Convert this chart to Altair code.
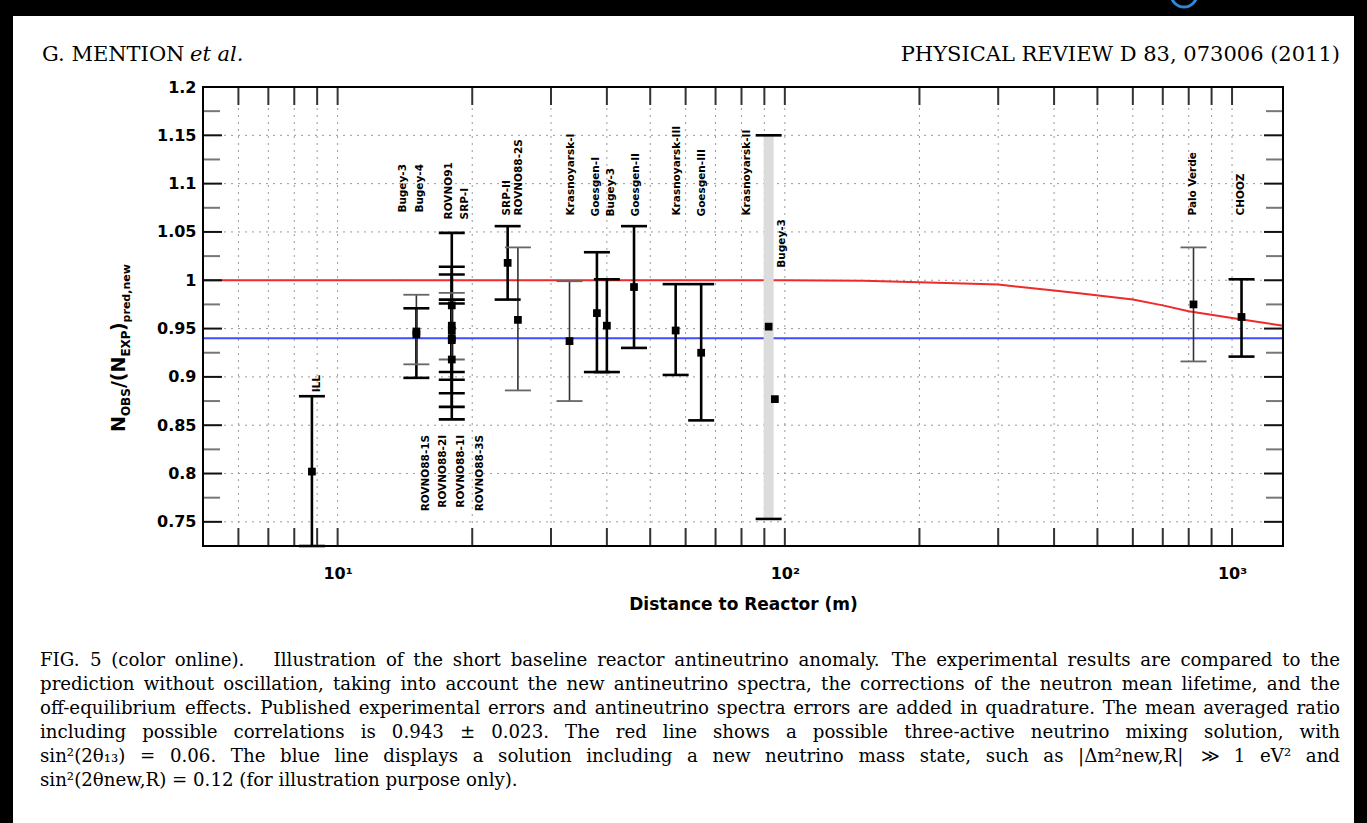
import altair as alt
import pandas as pd

# ---------------------------------------------------------------------------
# Reactor experiments: baseline (m), observed / predicted ratio, error bar ends
# ---------------------------------------------------------------------------
experiment = ["ILL", "Bugey-4", "Bugey-3 (15 m)", "ROVNO91", "SRP-I", "ROVNO88-1I",
              "ROVNO88-2I", "ROVNO88-1S", "ROVNO88-3S", "SRP-II", "ROVNO88-2S",
              "Krasnoyarsk-I", "Goesgen-I", "Bugey-3 (40 m)", "Goesgen-II",
              "Krasnoyarsk-III", "Goesgen-III", "Krasnoyarsk-II", "Bugey-3 (95 m)",
              "Palo Verde", "CHOOZ"]
distance_m = [8.76, 15.0, 15.0, 18.0, 18.0, 18.0, 18.0, 18.0, 18.0, 24.0, 25.3,
              33.0, 38.0, 40.0, 46.0, 57.0, 65.0, 92.0, 95.0, 820.0, 1050.0]
ratio = [0.802, 0.944, 0.947, 0.940, 0.953, 0.918, 0.948, 0.974, 0.938, 1.018, 0.959,
         0.937, 0.966, 0.953, 0.993, 0.948, 0.925, 0.952, 0.877, 0.975, 0.962]
err_low = [0.725, 0.899, 0.913, 0.905, 0.918, 0.856, 0.883, 0.897, 0.869, 0.980, 0.886,
           0.875, 0.905, 0.905, 0.930, 0.902, 0.855, 0.753, 0.877, 0.916, 0.921]
err_high = [0.880, 0.971, 0.985, 0.976, 0.987, 0.980, 1.014, 1.049, 1.006, 1.056, 1.034,
            0.999, 1.029, 1.001, 1.056, 0.996, 0.996, 1.150, 0.877, 1.034, 1.001]
bar_style = ["dark", "dark", "light", "dark", "light", "dark", "dark", "dark", "dark",
             "dark", "light", "light", "dark", "dark", "dark", "dark", "dark", "band",
             "none", "light", "dark"]

# Experiment names written vertically next to the points
label_text = ["ILL", "Bugey-3", "Bugey-4", "ROVNO91", "SRP-I", "SRP-II", "ROVNO88-2S",
              "Krasnoyarsk-I", "Goesgen-I", "Bugey-3", "Goesgen-II", "Krasnoyarsk-III",
              "Goesgen-III", "Krasnoyarsk-II", "Bugey-3", "Palo Verde", "CHOOZ",
              "ROVNO88-1S", "ROVNO88-2I", "ROVNO88-1I", "ROVNO88-3S"]
label_dist = [9.0, 14.0, 15.3, 17.7, 19.3, 23.9, 25.4, 33.2, 37.8, 40.8, 46.4, 57.3,
              65.4, 82.2, 98.4, 818.0, 1045.0, 15.8, 17.2, 18.9, 20.8]
label_at = [0.884, 1.070, 1.070, 1.063, 1.063, 1.067, 1.067, 1.067, 1.066, 1.066, 1.066,
            1.067, 1.066, 1.067, 1.013, 1.067, 1.067, 0.840, 0.840, 0.840, 0.840]
label_side = ["above"] * 17 + ["below"] * 4

# Three-active-neutrino mixing prediction (red) and sterile-neutrino level (blue)
red_dist = [5, 100, 150, 200, 240, 300, 400, 455, 600, 700, 800, 1000, 1300]
red_ratio = [1.0, 1.0, 0.9995, 0.998, 0.997, 0.9955, 0.9895, 0.9865, 0.980, 0.974,
             0.968, 0.961, 0.953]
blue_level = [0.94]

# Axis tick positions
x_ticks = [6, 7, 8, 9, 10, 20, 30, 40, 50, 60, 70, 80, 90, 100,
           200, 300, 400, 500, 600, 700, 800, 900, 1000]
x_decades = [10, 100, 1000]
y_major = [0.75, 0.8, 0.85, 0.9, 0.95, 1.0, 1.05, 1.1, 1.15, 1.2]
y_minor = [0.725, 0.775, 0.825, 0.875, 0.925, 0.975, 1.025, 1.075, 1.125, 1.175]

caption_lines = [
    "FIG. 5 (color online).   Illustration of the short baseline reactor antineutrino anomaly. The experimental results are compared to the",
    "prediction without oscillation, taking into account the new antineutrino spectra, the corrections of the neutron mean lifetime, and the",
    "off-equilibrium effects. Published experimental errors and antineutrino spectra errors are added in quadrature. The mean averaged ratio",
    "including possible correlations is 0.943 \u00b1 0.023. The red line shows a possible three-active neutrino mixing solution, with",
    "sin\u00b2(2\u03b8\u2081\u2083) = 0.06. The blue line displays a solution including a new neutrino mass state, such as |\u0394m\u00b2new,R| \u226b 1 eV\u00b2 and",
    "sin\u00b2(2\u03b8new,R) = 0.12 (for illustration purpose only).",
]

# ---------------------------------------------------------------------------
W, H = 1080, 459
SANS = "DejaVu Sans"
SERIF = "DejaVu Serif"

exp = pd.DataFrame({"experiment": experiment, "dist": distance_m, "ratio": ratio,
                    "low": err_low, "high": err_high, "style": bar_style})
labels = pd.DataFrame({"text": label_text, "dist": label_dist, "at": label_at,
                       "side": label_side})
red = pd.DataFrame({"dist": red_dist, "ratio": red_ratio})
blue = pd.DataFrame({"ratio": blue_level})
xt = pd.DataFrame({"dist": x_ticks})
ymaj = pd.DataFrame({"v": y_major[:-1]})
ymin = pd.DataFrame({"v": y_minor})
ygrid = pd.DataFrame({"v": y_major})
one = alt.Data(values=[{"k": 0}])

x_scale = alt.Scale(type="log", domain=[5, 1300], nice=False)
y_scale = alt.Scale(domain=[0.725, 1.2], nice=False, zero=False)

x_axis = alt.Axis(values=x_decades, ticks=False, domain=False, grid=False,
                  labelExpr="datum.value == 10 ? '10\u00b9' : datum.value == 100 ? '10\u00b2' : '10\u00b3'",
                  labelFont=SANS, labelFontSize=16, labelFontWeight="bold",
                  labelColor="black", labelPadding=19, labelFlush=False,
                  labelOverlap=False, title="Distance to Reactor (m)",
                  titleFont=SANS, titleFontSize=17, titleFontWeight="bold",
                  titleColor="black", titlePadding=15)
y_axis = alt.Axis(values=y_major, format="~g", ticks=False, domain=False, grid=False,
                  labelFont=SANS, labelFontSize=16, labelFontWeight="bold",
                  labelColor="black", labelPadding=7, labelFlush=False,
                  labelOverlap=False, title=None)


def X(field):
    return alt.X(f"{field}:Q", scale=x_scale, axis=x_axis)


def Y(field):
    return alt.Y(f"{field}:Q", scale=y_scale, axis=y_axis)


def free_text(txt, x, y, size, font, weight="normal", style="normal", angle=0,
              align="left", baseline="middle"):
    return alt.Chart(one).mark_text(
        text=txt, font=font, fontSize=size, fontWeight=weight, fontStyle=style,
        angle=angle, align=align, baseline=baseline, color="black"
    ).encode(x=alt.value(x), y=alt.value(y))


# approximate advance widths (em) of DejaVu Serif, used to justify the caption
SERIF_EM = {" ": .318, ".": .318, ",": .318, "(": .390, ")": .390, "-": .338,
            "\u00b1": .838, "=": .838, "|": .337, "\u00b2": .401, "\u226b": 1.0,
            "\u0394": .770, "\u03b8": .602, "\u2081": .401, "\u2083": .401, ":": .337,
            "a": .596, "b": .640, "c": .560, "d": .640, "e": .592, "f": .370, "g": .640,
            "h": .644, "i": .320, "j": .310, "k": .606, "l": .320, "m": .948, "n": .644,
            "o": .602, "p": .640, "q": .640, "r": .478, "s": .513, "t": .402, "u": .644,
            "v": .565, "w": .856, "x": .564, "y": .565, "z": .527,
            "A": .722, "B": .735, "C": .765, "D": .802, "E": .730, "F": .694, "G": .799,
            "H": .872, "I": .395, "L": .664, "M": 1.024, "N": .875, "O": .820, "P": .673,
            "R": .753, "S": .685, "T": .667, "V": .722, "W": 1.028}


def serif_width(s, size):
    return sum(SERIF_EM.get(c, .636) for c in s) * size


def justified(line, left, right, y, size):
    words = line.split(" ")
    widths = [serif_width(w, size) for w in words]
    gap = (right - left - sum(widths)) / (len(words) - 1)
    out, pos = [], left
    for i, (w, wd) in enumerate(zip(words, widths)):
        if w:
            if i == len(words) - 1:
                out.append(free_text(w, right, y, size, SERIF, align="right"))
            else:
                out.append(free_text(w, pos, y, size, SERIF))
        pos += wd + gap
    return out


# dotted grid
grid_v = alt.Chart(xt).mark_rule(color="#9a9a9a", strokeWidth=1, strokeDash=[2, 5]).encode(x=X("dist"))
grid_h = alt.Chart(ygrid).mark_rule(color="#9a9a9a", strokeWidth=1, strokeDash=[2, 5]).encode(y=Y("v"))

# model curves
red_line = alt.Chart(red).mark_line(color="#ee2a2a", strokeWidth=2).encode(x=X("dist"), y=Y("ratio"))
blue_line = alt.Chart(blue).mark_rule(color="#3f4dff", strokeWidth=2).encode(y=Y("ratio"))

# error bars
bars = alt.Chart(exp)
band = bars.transform_filter("datum.style == 'band'").mark_rule(
    color="#dcdcdc", strokeWidth=10).encode(x=X("dist"), y=Y("low"), y2="high")
dark = bars.transform_filter("datum.style == 'dark'").mark_rule(
    color="black", strokeWidth=2.6).encode(x=X("dist"), y=Y("low"), y2="high")
light = bars.transform_filter("datum.style == 'light'").mark_rule(
    color="#333333", strokeWidth=1.6).encode(x=X("dist"), y=Y("low"), y2="high")

capped = bars.transform_filter("datum.style != 'none'")
caps = []
for f in ["low", "high"]:
    caps.append(capped.transform_filter("datum.style != 'light'").mark_tick(
        orient="horizontal", size=26, thickness=2.6, color="black", opacity=1
    ).encode(x=X("dist"), y=Y(f)))
    caps.append(capped.transform_filter("datum.style == 'light'").mark_tick(
        orient="horizontal", size=26, thickness=1.8, color="#666666", opacity=1
    ).encode(x=X("dist"), y=Y(f)))

points = bars.mark_square(size=60, color="black", opacity=1).encode(x=X("dist"), y=Y("ratio"))

# experiment names
lab = alt.Chart(labels)
lab_up = lab.transform_filter("datum.side == 'above'").mark_text(
    angle=270, align="left", baseline="middle", font=SANS, fontSize=10.5,
    fontWeight="bold", color="black"
).encode(x=X("dist"), y=Y("at"), text="text:N")
lab_down = lab.transform_filter("datum.side == 'below'").mark_text(
    angle=270, align="right", baseline="middle", font=SANS, fontSize=10.5,
    fontWeight="bold", color="black"
).encode(x=X("dist"), y=Y("at"), text="text:N")

# inward ticks on all four sides of the frame
tick_b = alt.Chart(xt).mark_rule(color="#333333", strokeWidth=2).encode(
    x=X("dist"), y=alt.value(H - 18), y2=alt.value(H))
tick_t = alt.Chart(xt).mark_rule(color="#333333", strokeWidth=2).encode(
    x=X("dist"), y=alt.value(0), y2=alt.value(18))
tick_l_maj = alt.Chart(ymaj).mark_rule(color="#111111", strokeWidth=2).encode(
    y=Y("v"), x=alt.value(0), x2=alt.value(19))
tick_l_min = alt.Chart(ymin).mark_rule(color="#777777", strokeWidth=2).encode(
    y=Y("v"), x=alt.value(0), x2=alt.value(17))
tick_r_maj = alt.Chart(ymaj).mark_rule(color="#111111", strokeWidth=2).encode(
    y=Y("v"), x=alt.value(W - 19), x2=alt.value(W))
tick_r_min = alt.Chart(ymin).mark_rule(color="#777777", strokeWidth=2).encode(
    y=Y("v"), x=alt.value(W - 17), x2=alt.value(W))

frame = alt.Chart(one).mark_rect(fillOpacity=0, stroke="black", strokeWidth=2).encode(
    x=alt.value(0), x2=alt.value(W), y=alt.value(0), y2=alt.value(H))

# y-axis title built from pieces (subscripts are smaller and shifted)
ytitle = []
pieces = [("N", 19, 0, 0.0), ("OBS", 12, 5, 15.9), ("/(N", 19, 0, 43.9),
          ("EXP", 12, 5, 75.4), (")", 19, 0, 100.9), ("pred,new", 11, 5, 109.6)]
for txt, size, shift, up in pieces:
    ytitle.append(free_text(txt, -78 + shift, 345 - up, size, SANS, weight="bold",
                            angle=270, align="left", baseline="alphabetic"))

# page header and caption (first five caption lines justified)
header = [
    free_text("G. MENTION", -161, -32, 21, SERIF),
    free_text("et al.", -13, -32, 21, SERIF, style="italic"),
    free_text("PHYSICAL REVIEW D 83, 073006 (2011)", 1137, -32, 21, SERIF, align="right"),
]
CAP_SIZE = 18.2
caption = []
for i, line in enumerate(caption_lines):
    y = 574 + 24 * i
    if i < len(caption_lines) - 1:
        caption += justified(line, -163, 1137, y, CAP_SIZE)
    else:
        caption.append(free_text(line, -163, y, CAP_SIZE, SERIF))

# dark surround of the page
surround = [
    alt.Chart(one).mark_rect(color="black").encode(
        x=alt.value(-203), x2=alt.value(1164), y=alt.value(-87), y2=alt.value(-71)),
    alt.Chart(one).mark_rect(color="black").encode(
        x=alt.value(-203), x2=alt.value(-190), y=alt.value(-87), y2=alt.value(736)),
    alt.Chart(one).mark_rect(color="black").encode(
        x=alt.value(1151), x2=alt.value(1164), y=alt.value(-87), y2=alt.value(736)),
    alt.Chart(one).mark_point(shape="circle", filled=False, stroke="#2f86d8",
                              strokeWidth=3, size=676, opacity=1).encode(
        x=alt.value(981), y=alt.value(-93)),
]

chart = alt.layer(
    grid_v, grid_h, red_line, blue_line, band, dark, light, *caps, points,
    lab_up, lab_down, tick_b, tick_t, tick_l_maj, tick_l_min, tick_r_maj, tick_r_min,
    frame, *ytitle, *header, *caption, *surround
).properties(
    width=W, height=H,
    autosize=alt.AutoSizeParams(type="none"),
    padding={"left": 203, "top": 87, "right": 84, "bottom": 277},
    background="white",
).configure_view(stroke=None)

chart.save("out.html", embed_options={"renderer": "svg", "actions": False})
